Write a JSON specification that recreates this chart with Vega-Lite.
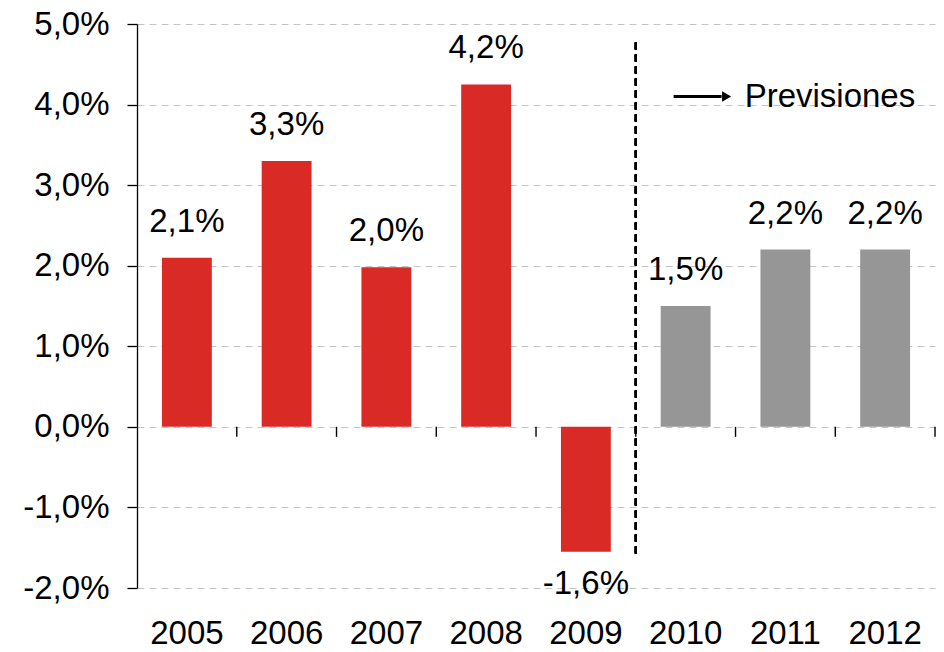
{
  "$schema": "https://vega.github.io/schema/vega-lite/v6.json",
  "autosize": {"type": "none"},
  "padding": {"left": 137, "top": 24, "right": 9, "bottom": 64},
  "width": 798,
  "height": 564,
  "background": "white",
  "config": {
    "view": {"stroke": null},
    "font": "Liberation Sans",
    "text": {"font": "Liberation Sans"}
  },
  "data": {
    "values": [
      {"year": "2005", "value": 2.1, "label": "2,1%", "kind": "real"},
      {"year": "2006", "value": 3.3, "label": "3,3%", "kind": "real"},
      {"year": "2007", "value": 1.98, "label": "2,0%", "kind": "real"},
      {"year": "2008", "value": 4.25, "label": "4,2%", "kind": "real"},
      {"year": "2009", "value": -1.55, "label": "-1,6%", "kind": "real"},
      {"year": "2010", "value": 1.5, "label": "1,5%", "kind": "prevision"},
      {"year": "2011", "value": 2.2, "label": "2,2%", "kind": "prevision"},
      {"year": "2012", "value": 2.2, "label": "2,2%", "kind": "prevision"}
    ]
  },
  "encoding": {
    "x": {
      "field": "year",
      "type": "nominal",
      "sort": null,
      "scale": {"paddingInner": 0.5, "paddingOuter": 0.25},
      "axis": {
        "title": null,
        "domain": false,
        "ticks": false,
        "grid": false,
        "labelAngle": 0,
        "labelFontSize": 33,
        "labelColor": "black",
        "labelFont": "Liberation Sans",
        "labelPadding": 29
      }
    }
  },
  "layer": [
    {
      "mark": {"type": "bar"},
      "encoding": {
        "y": {
          "field": "value",
          "type": "quantitative",
          "scale": {"domain": [-2, 5], "nice": false, "zero": false},
          "axis": {
            "title": null,
            "values": [-2, -1, 0, 1, 2, 3, 4, 5],
            "labelExpr": "replace(replace(format(datum.value, '.1f'), '.', ','), '\u2212', '-') + '%'",
            "labelFontSize": 33,
            "labelColor": "black",
            "labelFont": "Liberation Sans",
            "labelPadding": 18,
            "domainColor": "black",
            "domainWidth": 1.3,
            "tickColor": "black",
            "tickSize": 10,
            "tickWidth": 1.3,
            "grid": true,
            "gridColor": "#c4c4c4",
            "gridDash": [7, 5],
            "gridWidth": 1.2
          }
        },
        "color": {
          "field": "kind",
          "type": "nominal",
          "scale": {"domain": ["real", "prevision"], "range": ["#d92a26", "#969696"]},
          "legend": null
        }
      }
    },
    {
      "mark": {"type": "rule", "color": "black", "strokeWidth": 1.4},
      "encoding": {"y": {"datum": 0}}
    },
    {
      "mark": {"type": "rule", "color": "black", "strokeWidth": 1.4, "xOffset": 49.9},
      "encoding": {
        "x": {"field": "year", "type": "nominal", "sort": null},
        "y": {"datum": 0},
        "y2": {"datum": -0.124}
      }
    },
    {
      "mark": {"type": "rule", "color": "black", "strokeWidth": 2, "strokeDash": [7, 5], "xOffset": 49.9},
      "encoding": {
        "x": {"datum": "2009"},
        "y": {"datum": 4.77},
        "y2": {"datum": -1.59}
      }
    },
    {
      "transform": [{"filter": "datum.value >= 0"}],
      "mark": {"type": "text", "fontSize": 33, "color": "black", "baseline": "alphabetic", "dy": -26},
      "encoding": {
        "y": {"field": "value", "type": "quantitative"},
        "text": {"field": "label"}
      }
    },
    {
      "transform": [{"filter": "datum.value < 0"}],
      "mark": {"type": "text", "fontSize": 33, "color": "black", "baseline": "alphabetic", "dy": 42},
      "encoding": {
        "y": {"field": "value", "type": "quantitative"},
        "text": {"field": "label"}
      }
    },
    {
      "data": {"values": [{"year": "2010", "y": 4.1}]},
      "mark": {"type": "rule", "color": "black", "strokeWidth": 3, "xOffset": -12, "x2Offset": 36},
      "encoding": {
        "x": {"datum": "2010"},
        "x2": {"datum": "2010"},
        "y": {"field": "y", "type": "quantitative"}
      }
    },
    {
      "data": {"values": [{"year": "2010", "y": 4.1}]},
      "mark": {"type": "point", "shape": "triangle-right", "filled": true, "color": "black", "opacity": 1, "size": 110, "xOffset": 41},
      "encoding": {
        "x": {"datum": "2010"},
        "y": {"field": "y", "type": "quantitative"}
      }
    },
    {
      "data": {"values": [{"year": "2010", "y": 4.1, "note": "Previsiones"}]},
      "mark": {"type": "text", "fontSize": 33, "color": "black", "align": "left", "baseline": "middle", "xOffset": 59},
      "encoding": {
        "x": {"datum": "2010"},
        "y": {"field": "y", "type": "quantitative"},
        "text": {"field": "note"}
      }
    }
  ]
}
